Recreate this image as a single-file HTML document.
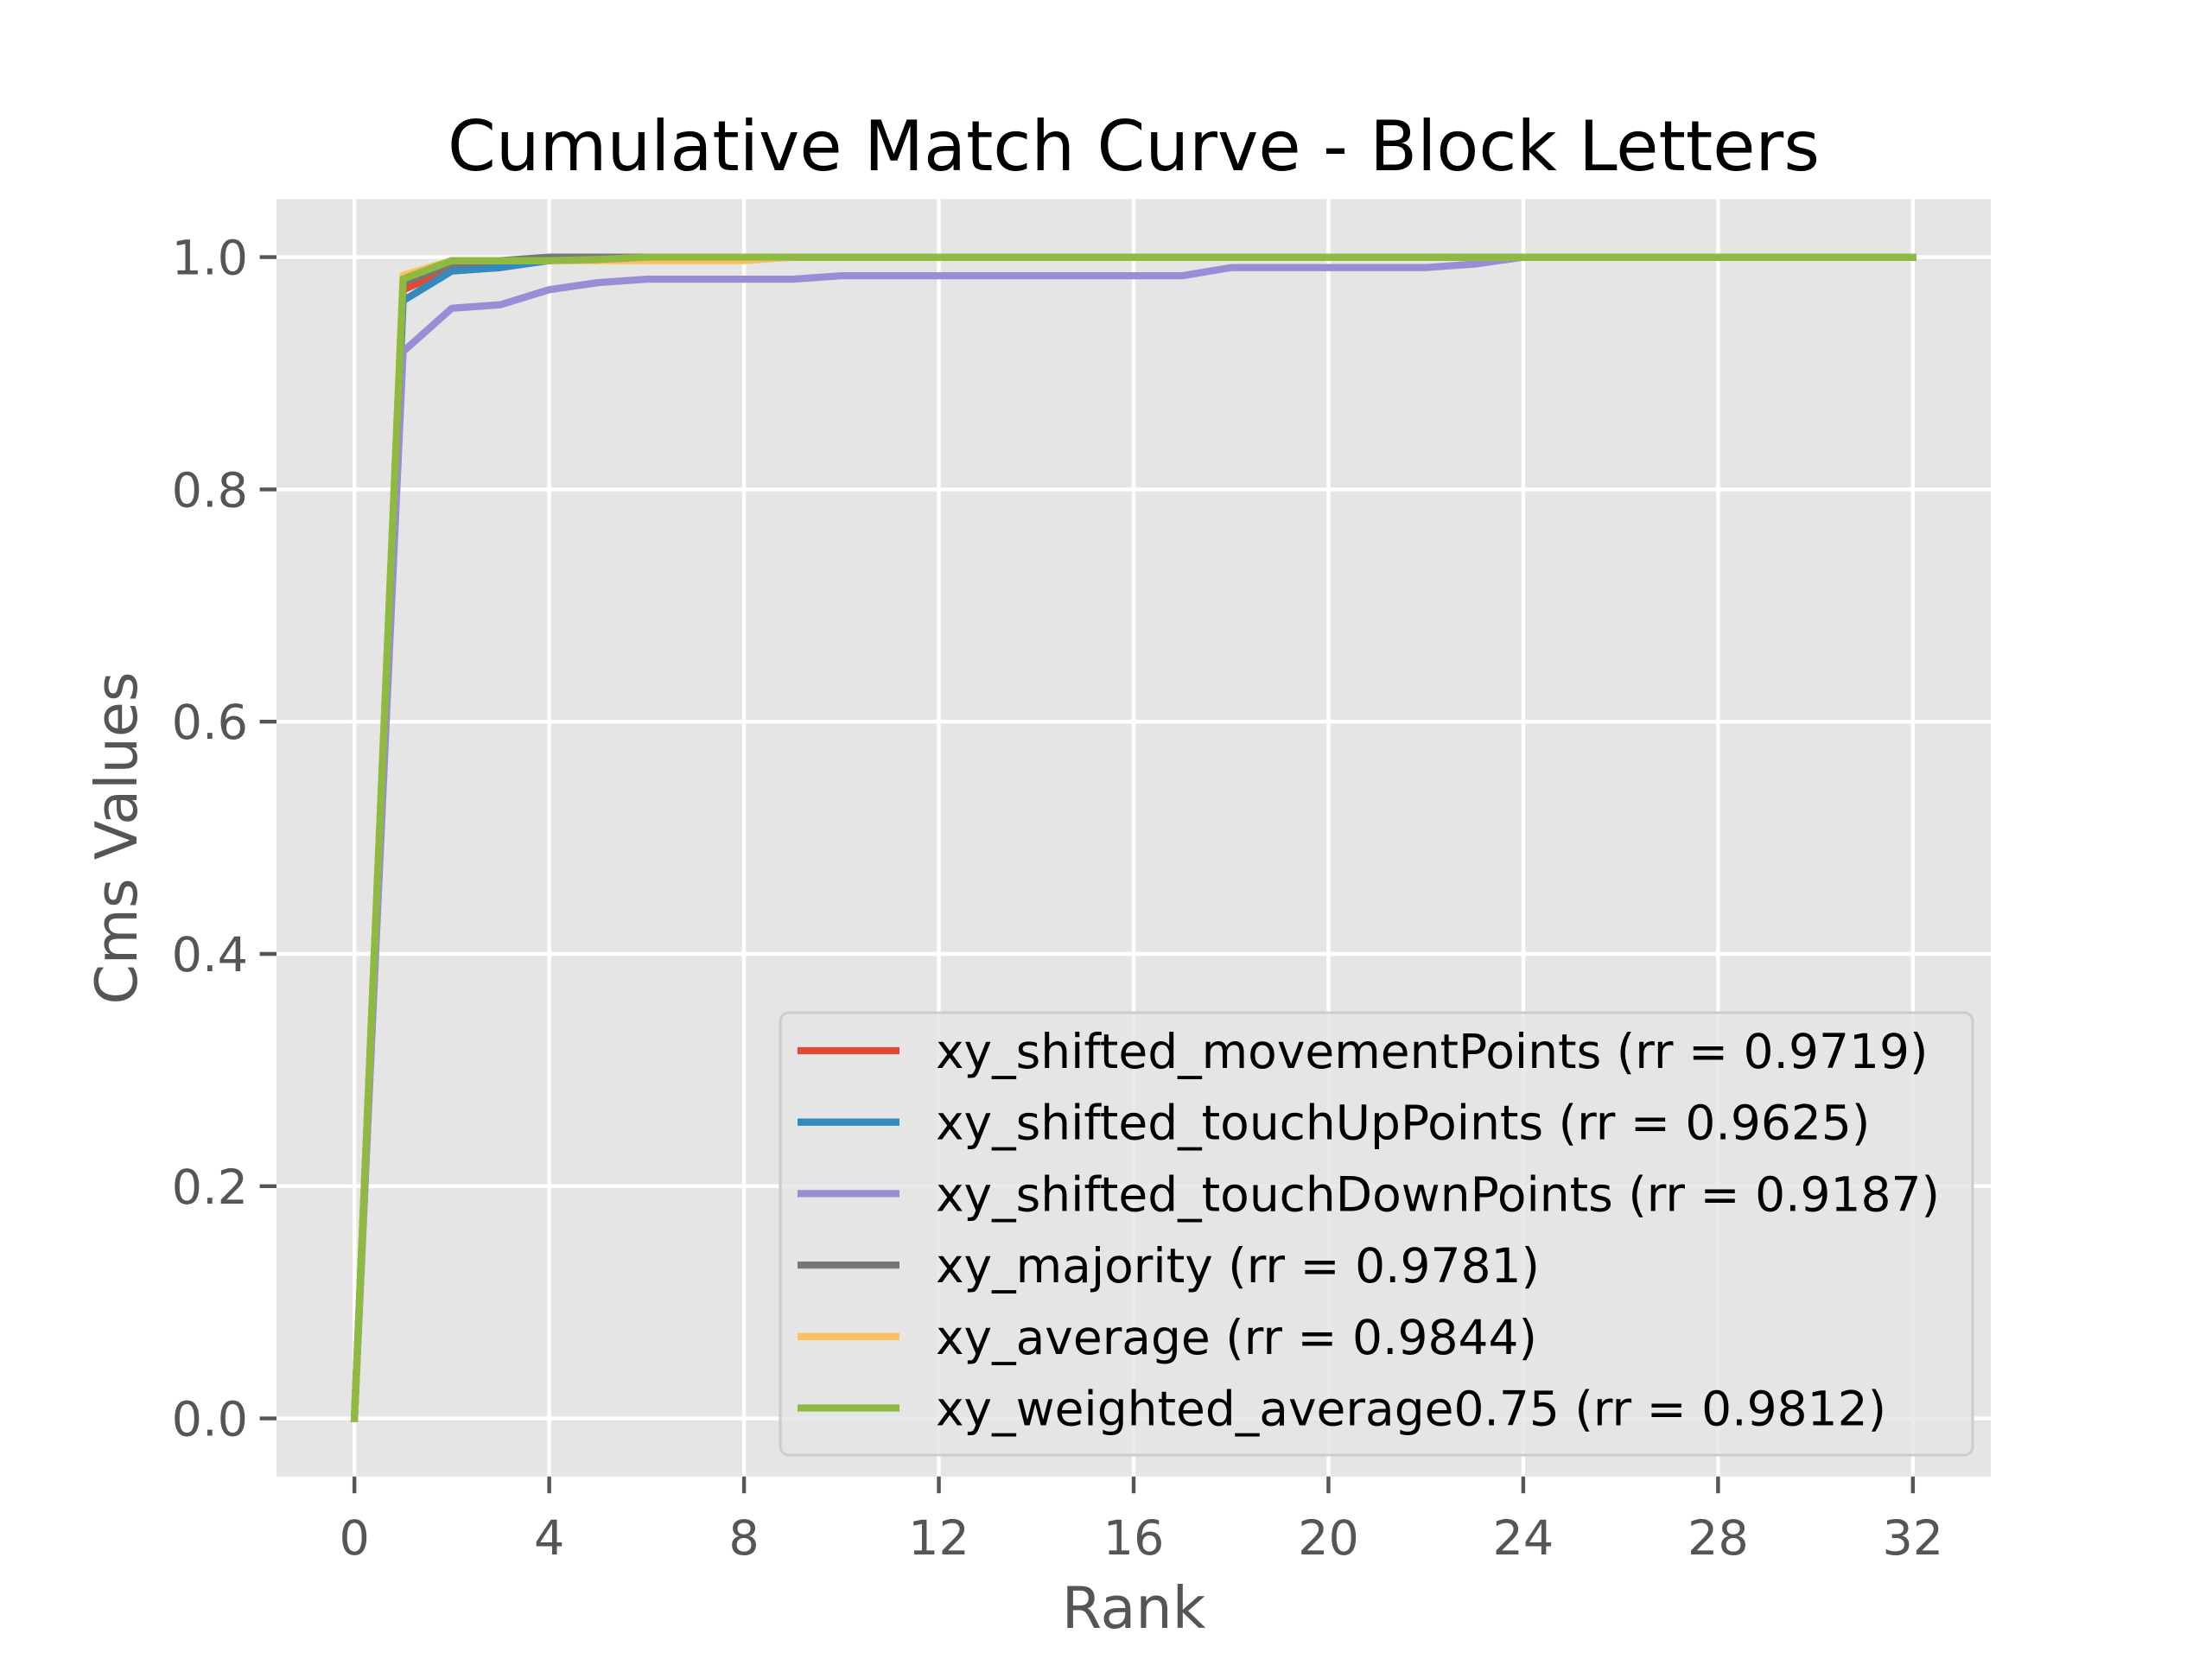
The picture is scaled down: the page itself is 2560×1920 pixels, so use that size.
<!DOCTYPE html>
<html><head><meta charset="utf-8"><style>html,body{margin:0;padding:0;background:#fff}svg{display:block}</style></head>
<body>
<svg id="chart" width="2560" height="1920" viewBox="0 0 2560 1920" xmlns="http://www.w3.org/2000/svg" font-family="'DejaVu Sans','Liberation Sans',sans-serif">
<rect width="2560" height="1920" fill="#fff"/>
<rect x="320" y="230.4" width="1984" height="1478.4" fill="#E5E5E5"/>
<g id="grid"></g>
<g id="ticks"></g>
<g id="lines"></g>
<g id="legend"></g>
<text x="1312" y="197" font-size="80" text-anchor="middle" fill="#000">Cumulative Match Curve - Block Letters</text>
<text x="1312" y="1884" font-size="66.7" text-anchor="middle" fill="#555">Rank</text>
<text transform="translate(158,970) rotate(-90)" font-size="66.7" text-anchor="middle" fill="#555">Cms Values</text>
</svg>
<script>
const ranks = [0,1,2,3,4,5,6,7,8,9,10,11,12,13,14,15,16,17,18,19,20,21,22,23,24,25,26,27,28,29,30,31,32];
const movementVals = [0,0.9719,0.990,0.994,0.997,1,1,1,1,1,1,1,1,1,1,1,1,1,1,1,1,1,1,1,1,1,1,1,1,1,1,1,1];
const touchUpVals = [0,0.9625,0.988,0.991,0.997,1,1,1,1,1,1,1,1,1,1,1,1,1,1,1,1,1,1,1,1,1,1,1,1,1,1,1,1];
const touchDownVals = [0,0.9187,0.956,0.959,0.972,0.978,0.981,0.981,0.981,0.981,0.984,0.984,0.984,0.984,0.984,0.984,0.984,0.984,0.991,0.991,0.991,0.991,0.991,0.994,1,1,1,1,1,1,1,1,1];
const majorityVals = [0,0.9781,0.994,0.997,1,1,1,1,1,1,1,1,1,1,1,1,1,1,1,1,1,1,1,1,1,1,1,1,1,1,1,1,1];
const averageVals = [0,0.9844,0.997,0.997,0.997,0.997,0.997,0.997,0.997,1,1,1,1,1,1,1,1,1,1,1,1,1,1,1,1,1,1,1,1,1,1,1,1];
const weightedVals = [0,0.9812,0.997,0.997,0.997,0.998,1,1,1,1,1,1,1,1,1,1,1,1,1,1,1,1,1,1,1,1,1,1,1,1,1,1,1];
const seriesLabels = ["xy_shifted_movementPoints (rr = 0.9719)","xy_shifted_touchUpPoints (rr = 0.9625)","xy_shifted_touchDownPoints (rr = 0.9187)","xy_majority (rr = 0.9781)","xy_average (rr = 0.9844)","xy_weighted_average0.75 (rr = 0.9812)"];
const xTicks = [0,4,8,12,16,20,24,28,32];
const yTicks = [0,0.2,0.4,0.6,0.8,1.0];
const yTickLabels = ["0.0","0.2","0.4","0.6","0.8","1.0"];

const colors = ["#E24A33","#348ABD","#988ED5","#777777","#FBC15E","#8EBA42"];
const names = ["movement","touchup","touchdown","majority","average","weighted"];
const L=320,R=2304,T=230.4,B=1708.8;
const xmin=-1.6,xmax=33.6,ymin=-0.05,ymax=1.05;
const sx=v=>L+(v-xmin)/(xmax-xmin)*(R-L);
const sy=v=>B-(v-ymin)/(ymax-ymin)*(B-T);
const NS="http://www.w3.org/2000/svg";
function mk(tag,attrs,parent){const e=document.createElementNS(NS,tag);for(const k in attrs)e.setAttribute(k,attrs[k]);parent.appendChild(e);return e;}
const grid=document.getElementById('grid'),ticks=document.getElementById('ticks'),lines=document.getElementById('lines'),legend=document.getElementById('legend');
xTicks.forEach(t=>{
  const g=mk('line',{x1:sx(t),x2:sx(t),y1:T,y2:B,stroke:'#fff','stroke-width':4.4},grid);
  
  
  const tk=mk('line',{x1:sx(t),x2:sx(t),y1:B,y2:B+19.4,stroke:'#555','stroke-width':4.4},ticks);
  
  
  const tx=mk('text',{x:sx(t),y:B+90,'font-size':55.6,'text-anchor':'middle',fill:'#555'},ticks);
  tx.textContent=String(t);
  
  
});
yTicks.forEach((t,i)=>{
  const g=mk('line',{x1:L,x2:R,y1:sy(t),y2:sy(t),stroke:'#fff','stroke-width':4.4},grid);
  
  
  const tk=mk('line',{x1:L-19.4,x2:L,y1:sy(t),y2:sy(t),stroke:'#555','stroke-width':4.4},ticks);
  
  
  const tx=mk('text',{x:L-33,y:sy(t)+20,'font-size':55.6,'text-anchor':'end',fill:'#555'},ticks);
  tx.textContent=yTickLabels[i];
  
  
});
const allSeries=[movementVals,touchUpVals,touchDownVals,majorityVals,averageVals,weightedVals];
allSeries.forEach((vals,i)=>{
  const d=vals.map((v,j)=>(j?'L':'M')+sx(ranks[j]).toFixed(2)+','+sy(v).toFixed(2)).join(' ');
  const p=mk('path',{d:d,fill:'none',stroke:colors[i],'stroke-width':8.3,'stroke-linejoin':'round','stroke-linecap':'square'},lines);
  
  
});
const lb=mk('rect',{x:903,y:1172,width:1380,height:512,rx:10,fill:'#E5E5E5','fill-opacity':0.8,stroke:'#cccccc','stroke-width':3},legend);


seriesLabels.forEach((s,i)=>{
  const y=1216+i*82.7;
  const h=mk('line',{x1:923,x2:1041,y1:y,y2:y,stroke:colors[i],'stroke-width':8.3},legend);
  
  
  const t=mk('text',{x:1083,y:y+20,'font-size':55,fill:'#000'},legend);
  t.textContent=s;
  
  
});
</script>
</body></html>
